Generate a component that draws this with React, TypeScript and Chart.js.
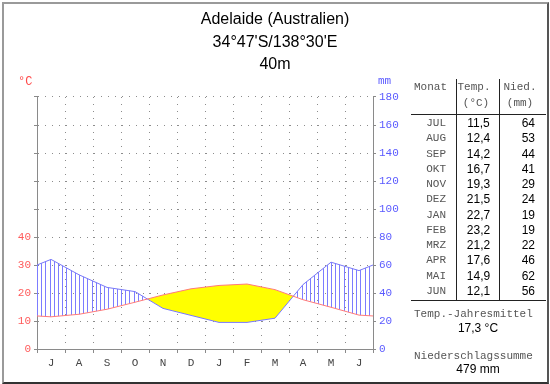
import React, { useEffect, useRef } from 'react';
import { Chart, registerables } from 'chart.js';

Chart.register(...registerables);

const titleLines = ['Adelaide (Australien)', "34°47'S/138°30'E", '40m'];
const axisMonthLabels = ['J', 'A', 'S', 'O', 'N', 'D', 'J', 'F', 'M', 'A', 'M', 'J'];
const tableMonths = ['JUL', 'AUG', 'SEP', 'OKT', 'NOV', 'DEZ', 'JAN', 'FEB', 'MRZ', 'APR', 'MAI', 'JUN'];
const tempValues = [11.5, 12.4, 14.2, 16.7, 19.3, 21.5, 22.7, 23.2, 21.2, 17.6, 14.9, 12.1];
const precipValues = [64, 53, 44, 41, 29, 24, 19, 19, 22, 46, 62, 56];
const tempTicks = [0, 10, 20, 30, 40, 50, 60, 70, 80, 90];
const tempTickLabelMax = 40;
const precipTicks = [0, 20, 40, 60, 80, 100, 120, 140, 160, 180];
const annualMeanTemp = '17,3 °C';
const annualPrecip = '479 mm';

const MONO = '"Liberation Mono", "DejaVu Sans Mono", monospace';
const SANS = '"Liberation Sans", Arial, sans-serif';
const HATCH_COLOR = '#7c7cff';
const HATCH_STEP = 4.2;

function withEdges(values: number[]) {
  const edge = (values[0] + values[values.length - 1]) / 2;
  return [
    { x: 0, y: edge },
    ...values.map((v, i) => ({ x: i + 0.5, y: v })),
    { x: values.length, y: edge },
  ];
}

// Vertical hatching in the humid part (precipitation line above temperature line),
// clipped with the point positions that Chart.js computed for both datasets.
const humidHatch = {
  id: 'humidHatch',
  beforeDatasetsDraw(chart: any) {
    const { ctx, chartArea: a } = chart;
    const tp = chart.getDatasetMeta(0).data;
    const pp = chart.getDatasetMeta(1).data;
    if (!tp.length || !pp.length) return;
    ctx.save();
    ctx.beginPath();
    pp.forEach((pt: any, i: number) => (i ? ctx.lineTo(pt.x, pt.y) : ctx.moveTo(pt.x, pt.y)));
    ctx.lineTo(a.right, a.bottom);
    ctx.lineTo(a.left, a.bottom);
    ctx.closePath();
    ctx.clip();
    ctx.beginPath();
    tp.forEach((pt: any, i: number) => (i ? ctx.lineTo(pt.x, pt.y) : ctx.moveTo(pt.x, pt.y)));
    ctx.lineTo(a.right, a.top);
    ctx.lineTo(a.left, a.top);
    ctx.closePath();
    ctx.clip();
    ctx.strokeStyle = HATCH_COLOR;
    ctx.lineWidth = 1;
    ctx.beginPath();
    for (let k = 0; a.left + k * HATCH_STEP <= a.right; k++) {
      const x = Math.round(a.left + k * HATCH_STEP) + 0.5;
      ctx.moveTo(x, a.top);
      ctx.lineTo(x, a.bottom);
    }
    ctx.stroke();
    ctx.restore();
  },
};

const unitLabels = {
  id: 'unitLabels',
  afterDraw(chart: any) {
    const { ctx, chartArea } = chart;
    ctx.save();
    ctx.textBaseline = 'middle';
    ctx.textAlign = 'left';
    ctx.font = '12px ' + MONO;
    ctx.fillStyle = '#ff4a4a';
    ctx.fillText('°C', chartArea.left - 19, chartArea.top - 15);
    ctx.font = '11px ' + MONO;
    ctx.fillStyle = '#5a5aff';
    ctx.fillText('mm', chartArea.right + 5, chartArea.top - 16);
    ctx.restore();
  },
};

const fmt = (v: number) => v.toFixed(1).replace('.', ',');

function Txt(props: { x: number; y: number; w?: number; align?: 'left' | 'right' | 'center'; mono?: boolean; size?: number; color?: string; children: React.ReactNode }) {
  const { x, y, w = 60, align = 'left', mono = false, size = 11, color = '#000', children } = props;
  return (
    <div
      style={{
        position: 'absolute',
        left: x,
        top: y - 7,
        width: w,
        height: 14,
        lineHeight: '14px',
        textAlign: align,
        fontFamily: mono ? MONO : SANS,
        fontSize: size,
        color,
        whiteSpace: 'nowrap',
      }}
    >
      {children}
    </div>
  );
}

export default function App() {
  const canvasRef = useRef<HTMLCanvasElement | null>(null);

  useEffect(() => {
    const canvas = canvasRef.current;
    if (!canvas) return;
    const gridColor = '#8c8c8c';
    const axisColor = '#8a8a8a';
    const chart = new Chart(canvas, {
      type: 'line',
      data: {
        datasets: [
          {
            label: 'Temperatur',
            data: withEdges(tempValues),
            yAxisID: 'y',
            borderColor: '#ff7a7a',
            borderWidth: 1,
            pointRadius: 0,
            tension: 0,
            fill: { target: 1, above: '#ffff00', below: 'rgba(0,0,0,0)' } as any,
          },
          {
            label: 'Niederschlag',
            data: withEdges(precipValues),
            yAxisID: 'y1',
            borderColor: '#7878ff',
            borderWidth: 1,
            pointRadius: 0,
            tension: 0,
            fill: false,
          },
        ],
      },
      options: {
        responsive: false,
        animation: false,
        parsing: false as any,
        layout: { padding: 0 },
        plugins: {
          legend: { display: false },
          tooltip: { enabled: false },
          filler: { drawTime: 'beforeDatasetsDraw' } as any,
          title: {
            display: true,
            text: titleLines,
            color: '#000',
            font: { family: SANS, size: 16, weight: 'normal', lineHeight: 1.4 },
            padding: { top: 8.5, bottom: 21.3 },
          },
        },
        scales: {
          x: {
            type: 'linear',
            min: 0,
            max: 12,
            position: 'bottom',
            afterBuildTicks: (s: any) => {
              s.ticks = axisMonthLabels.concat(['']).map((_, i) => ({ value: i }));
            },
            afterFit: (s: any) => {
              s.height = 35;
            },
            ticks: {
              autoSkip: false,
              maxRotation: 0,
              labelOffset: 14,
              padding: 3,
              color: '#444',
              font: { family: MONO, size: 11 },
              callback: (v: any) => axisMonthLabels[v as number] ?? '',
            },
            grid: { color: gridColor, tickLength: 4, tickColor: axisColor, tickBorderDash: [] },
            border: { color: axisColor, dash: [1, 6] },
          },
          y: {
            type: 'linear',
            position: 'left',
            min: 0,
            max: 90,
            afterBuildTicks: (s: any) => {
              s.ticks = tempTicks.map((v) => ({ value: v }));
            },
            afterFit: (s: any) => {
              s.width = 37;
            },
            ticks: {
              padding: 3,
              color: '#ff5a5a',
              font: { family: MONO, size: 11 },
              callback: (v: any) => ((v as number) <= tempTickLabelMax ? String(v) : ''),
            },
            grid: { color: gridColor, tickLength: 3, tickColor: axisColor, tickBorderDash: [] },
            border: { color: axisColor, dash: [1, 6] },
          },
          y1: {
            type: 'linear',
            position: 'right',
            min: 0,
            max: 180,
            afterBuildTicks: (s: any) => {
              s.ticks = precipTicks.map((v) => ({ value: v }));
            },
            afterFit: (s: any) => {
              s.width = 177;
            },
            ticks: {
              padding: 3,
              color: '#5a5aff',
              font: { family: MONO, size: 11 },
              callback: (v: any) => String(v),
            },
            grid: { drawOnChartArea: false, tickLength: 3, tickColor: axisColor, tickBorderDash: [] },
            border: { color: axisColor },
          },
        },
      },
      plugins: [humidHatch, unitLabels],
    });
    return () => chart.destroy();
  }, []);

  const rowY = (i: number) => 123 + i * 15.27;
  const lineColor = '#222';

  return (
    <div style={{ position: 'absolute', left: 0, top: 0, width: 550, height: 384, background: '#fff', overflow: 'hidden' }}>
      <div
        style={{
          position: 'absolute',
          left: 2,
          top: 2,
          width: 543,
          height: 378,
          borderTop: '2px solid #9a9a9a',
          borderLeft: '2px solid #9a9a9a',
          borderRight: '2px solid #555',
          borderBottom: '2px solid #333',
        }}
      />
      <canvas ref={canvasRef} width={550} height={384} style={{ position: 'absolute', left: 0, top: 0, display: 'block' }} />
      {/* table */}
      <div style={{ position: 'absolute', left: 456, top: 79, width: 1, height: 221, background: lineColor }} />
      <div style={{ position: 'absolute', left: 499, top: 79, width: 1, height: 221, background: lineColor }} />
      <div style={{ position: 'absolute', left: 411, top: 114, width: 135, height: 1, background: lineColor }} />
      <div style={{ position: 'absolute', left: 411, top: 300, width: 135, height: 1, background: lineColor }} />
      <Txt x={414} y={87} mono color="#555">Monat</Txt>
      <Txt x={444} y={87} w={60} align="center" mono color="#555">Temp.</Txt>
      <Txt x={446} y={103} w={60} align="center" mono color="#555">(°C)</Txt>
      <Txt x={490} y={87} w={60} align="center" mono color="#555">Nied.</Txt>
      <Txt x={490} y={103} w={60} align="center" mono color="#555">(mm)</Txt>
      {tableMonths.map((m, i) => (
        <React.Fragment key={m}>
          <Txt x={406} y={rowY(i)} w={40} align="right" mono color="#555">{m}</Txt>
          <Txt x={457} y={rowY(i)} w={43} align="center" size={12}>{fmt(tempValues[i])}</Txt>
          <Txt x={500} y={rowY(i)} w={35} align="right" size={12}>{String(precipValues[i])}</Txt>
        </React.Fragment>
      ))}
      <Txt x={414} y={314} w={130} mono color="#555">Temp.-Jahresmittel</Txt>
      <Txt x={438} y={328} w={80} align="center" size={12}>{annualMeanTemp}</Txt>
      <Txt x={414} y={356} w={130} mono color="#555">Niederschlagssumme</Txt>
      <Txt x={438} y={369} w={80} align="center" size={12}>{annualPrecip}</Txt>
    </div>
  );
}
